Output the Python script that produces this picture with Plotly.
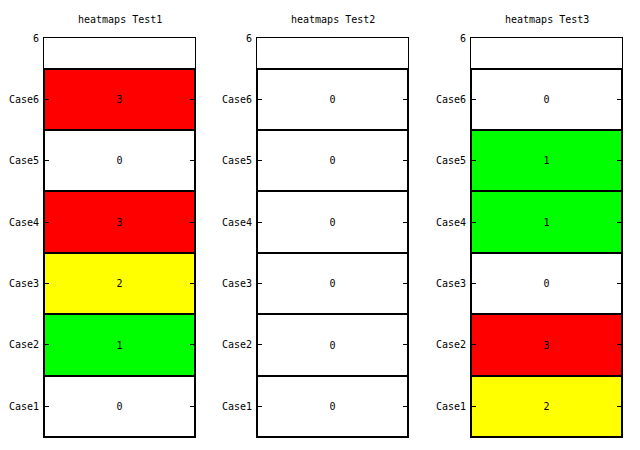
import plotly.graph_objects as go

cases = ["Case1", "Case2", "Case3", "Case4", "Case5", "Case6"]
titles = ["heatmaps Test1", "heatmaps Test2", "heatmaps Test3"]
test1 = [0, 1, 2, 3, 0, 3]
test2 = [0, 0, 0, 0, 0, 0]
test3 = [2, 3, 0, 1, 1, 0]
value_colors = {0: "#ffffff", 1: "#00ff00", 2: "#ffff00", 3: "#ff0000"}
tick_vals = [1, 2, 3, 4, 5, 6, 7]
tick_text = cases + ["6"]

W, H = 640, 450
panels = [(44, 195), (257, 408), (471, 622)]
top_px, bot_px = 38, 437
font = "DejaVu Sans Mono"

fig = go.Figure()
for i, (vals, title, (x0, x1)) in enumerate(zip([test1, test2, test3], titles, panels)):
    n = "" if i == 0 else str(i + 1)
    fig.add_trace(go.Bar(
        y=list(range(1, len(cases) + 1)), x=[1] * len(cases), orientation="h",
        width=1, marker=dict(color=[value_colors[v] for v in vals],
                             line=dict(color="black", width=2)),
        text=[str(v) for v in vals], textposition="inside", insidetextanchor="middle",
        textangle=0, textfont=dict(color="black", size=10, family=font),
        xaxis="x" + n, yaxis="y" + n, showlegend=False, hoverinfo="skip",
    ))
    fig.layout["xaxis" + n] = dict(
        domain=[x0 / W, x1 / W], range=[0, 1], showgrid=False, zeroline=False,
        showticklabels=False, ticks="", showline=True, linecolor="black",
        linewidth=1, mirror=True, anchor="y" + n, fixedrange=True, automargin=False,
    )
    fig.layout["yaxis" + n] = dict(
        domain=[(H - bot_px) / H, (H - top_px) / H], range=[0.5, 7],
        tickvals=tick_vals, ticktext=tick_text, ticks="inside", ticklen=5,
        tickcolor="black", showgrid=False, zeroline=False, showline=True,
        linecolor="black", linewidth=1, mirror="ticks", anchor="x" + n,
        tickfont=dict(family=font, size=10, color="black"), ticklabelstandoff=2,
        automargin=False,
    )
    fig.add_annotation(text=title, x=(x0 + x1) / 2 / W, y=(H - 19) / H,
                       xref="paper", yref="paper", showarrow=False,
                       xanchor="center", yanchor="middle",
                       font=dict(family=font, size=10, color="black"))

fig.update_layout(width=W, height=H, margin=dict(l=0, r=0, t=0, b=0, autoexpand=False),
                  paper_bgcolor="white", plot_bgcolor="white", bargap=0)
fig.write_html("out.html")
